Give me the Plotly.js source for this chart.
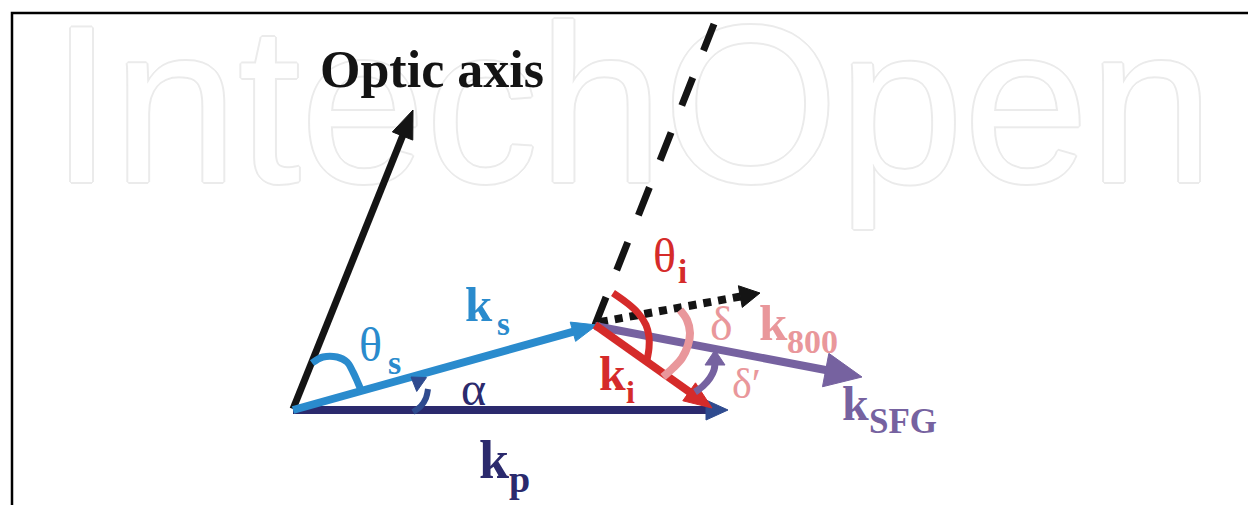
<!DOCTYPE html>
<html><head><meta charset="utf-8">
<script src="https://cdn.plot.ly/plotly-3.0.1.min.js"></script>
<style>html,body{margin:0;padding:0;background:#fff;}#chart{width:1248px;height:505px;}</style>
</head><body><div id="chart"></div>
<script>
// ---------- data (diagram coordinates in the 1248 x 505 plane) ----------
const colors = {black:'#141414', navy:'#2b2a6d', blue:'#2a8bcd', red:'#d52b2a',
                pink:'#e9979b', purple:'#7662a0', navyHead:'#2f4b8f'};

// frame corners (top-right end, top-left corner, bottom-left end)
const framePts = [[1248,13],[12,13],[12,505]];

// vectors
const vecNames  = ['kp','optic','ks','ki','kSFG','k800'];
const vecStart  = [[293,410],[293,409],[293,410],[595,325],[595,326],[600,322]];
const vecEnd    = [[728,410],[413,110],[597,325],[712,408],[862,377],[760,293]];
const vecColor  = ['navy','black','blue','red','purple','black'];
const headColor = ['navyHead','black','blue','red','purple','black'];
const vecWidth  = [8,7,8,8,8,8];
const vecDash   = ['solid','solid','solid','solid','solid','8px,7px'];
const headLen   = [22,28,25,28,37,20];
const headWid   = [20,22,20,22,34,22];

// dashed normal line
const dashStart = [595,325];
const dashEnd   = [714,24];

// angle arcs
const arcThetaS = [[312,363],[323,357],[337,357],[347,362],[353,372],[358,383],[361,390]];
const arcThetaI = [[613,293],[627,303],[638,313],[646,325],[649,337],[649,348],[647,360]];
const arcDelta  = [[680,310],[687,320],[690,333],[688,345],[682,358],[673,368],[663,377]];
const arcDeltaP = [[695,392],[703,386],[710,378],[714,370],[715,363]];
const tipDeltaP = [715,350];
const arcAlpha  = [[413,412],[421,406],[426,398],[428,389]];
const tipAlpha  = [411,377];

// labels: text, ink-left x, baseline y, size, bold, colour
const labels = [
  ['Optic axis', 321, 87, 52, true, 'black'],
  ['k', 466, 321, 49, true, 'blue'], ['s', 498, 335, 33, true, 'blue'],
  ['θ', 360, 361, 48, false, 'blue'], ['s', 389, 374, 34, true, 'blue'],
  ['α', 462, 405, 48, false, 'navy'],
  ['k', 480, 478, 54, true, 'navy'], ['p', 510, 492, 38, true, 'navy'],
  ['θ', 654, 272, 48, false, 'red'], ['i', 679, 283, 33, true, 'red'],
  ['k', 600, 390, 48, true, 'red'], ['i', 627, 403, 32, true, 'red'],
  ['δ', 711, 340, 48, false, 'pink'],
  ['k', 760, 340, 51, true, 'pink'], ['800', 788, 353, 34, true, 'pink'],
  ['δ′', 733, 398, 42, false, 'pink'],
  ['k', 843, 420, 48, true, 'purple'], ['SFG', 870, 433, 35, true, 'purple']
];
// watermark: text, centre x, baseline y, size
const watermark = ['IntechOpen', 632, 182, 225];

// ---------- build ----------
const traces = [];
const wmShadow = ['1px 0 0','-1px 0 0','0 1px 0','0 -1px 0','1px 1px 0','-1px -1px 0','1px -1px 0','-1px 1px 0',
  '2px 0 0','-2px 0 0','0 2px 0','0 -2px 0'].map(s=>s+' #ebebeb').join(', ');
traces.push({type:'scatter', mode:'text', x:[watermark[1]], y:[watermark[2]-0.252*watermark[3]],
  text:[watermark[0]], textposition:'middle center', hoverinfo:'skip', showlegend:false, cliponaxis:false,
  textfont:{family:'Liberation Sans, Arial, sans-serif', size:watermark[3], color:'#ffffff', shadow:wmShadow}});

function unit(s, e){ const dx=e[0]-s[0], dy=e[1]-s[1]; const L=Math.hypot(dx,dy); return [dx/L, dy/L]; }
function headPoly(s, e, len, wid){
  const u = unit(s,e), p=[-u[1], u[0]];
  const bx = e[0]-u[0]*len, by = e[1]-u[1]*len;
  return {x:[e[0], bx+p[0]*wid/2, bx-p[0]*wid/2, e[0]], y:[e[1], by+p[1]*wid/2, by-p[1]*wid/2, e[1]]};
}
function addLine(xs, ys, color, width, dash, shape){
  traces.push({type:'scatter', mode:'lines', x:xs, y:ys, hoverinfo:'skip', showlegend:false,
    line:{color:color, width:width, dash:dash||'solid', shape:shape||'linear', smoothing:1}});
}
function addPoly(poly, color){
  traces.push({type:'scatter', mode:'lines', x:poly.x, y:poly.y, fill:'toself', fillcolor:color,
    line:{color:color, width:1}, hoverinfo:'skip', showlegend:false});
}
function addVector(i){
  const s=vecStart[i], e=vecEnd[i], u=unit(s,e);
  const shaftEnd=[e[0]-u[0]*headLen[i]*0.75, e[1]-u[1]*headLen[i]*0.75];
  addLine([s[0],shaftEnd[0]],[s[1],shaftEnd[1]], colors[vecColor[i]], vecWidth[i], vecDash[i]);
  addPoly(headPoly(s,e,headLen[i],headWid[i]), colors[headColor[i]]);
}
function addArc(pts, color, width){
  addLine(pts.map(p=>p[0]), pts.map(p=>p[1]), color, width, 'solid', 'spline');
}

addVector(0); // kp
addVector(1); // optic axis
addLine([dashStart[0],dashEnd[0]],[dashStart[1],dashEnd[1]], colors.black, 7, '30px,29px');
addVector(2); // ks
addVector(5); // k800 dotted
addVector(4); // kSFG
addVector(3); // ki
addArc(arcThetaS, colors.blue, 7);
addArc(arcAlpha, colors.navyHead, 6);
addPoly(headPoly(arcAlpha[arcAlpha.length-1], tipAlpha, 13, 17), colors.navyHead);
addArc(arcThetaI, colors.red, 7);
addArc(arcDeltaP, colors.purple, 7);
addPoly(headPoly(arcDeltaP[arcDeltaP.length-1], tipDeltaP, 15, 20), colors.purple);
addArc(arcDelta, colors.pink, 8);

const annotations = labels.map(l=>({
  text: l[4] ? '<b>'+l[0]+'</b>' : l[0], x:l[1]-3, y:l[2]-0.3375*l[3],
  xref:'x', yref:'y', xanchor:'left', yanchor:'middle', showarrow:false,
  font:{family:'Liberation Serif, Times New Roman, serif', size:l[3], color:colors[l[5]]}}));

const shapes = [{type:'path', xref:'x', yref:'y',
  path:'M'+framePts.map(p=>p[0]+','+p[1]).join(' L'),
  line:{color:'#000', width:2.5}}];

const layout = {width:1248, height:505, margin:{l:0,r:0,t:0,b:0},
  paper_bgcolor:'#fff', plot_bgcolor:'#fff', showlegend:false,
  xaxis:{range:[0,1248], visible:false, fixedrange:true},
  yaxis:{range:[505,0], visible:false, fixedrange:true},
  annotations:annotations, shapes:shapes};
Plotly.newPlot('chart', traces, layout, {staticPlot:true, displayModeBar:false});
</script></body></html>
